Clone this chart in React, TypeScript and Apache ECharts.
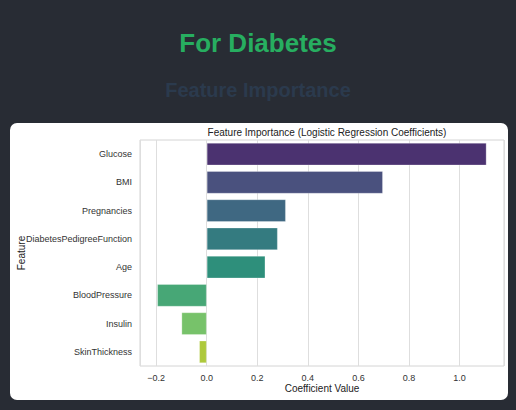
import React, { useEffect, useRef } from "react";
import * as echarts from "echarts";

const features = [
  "Glucose",
  "BMI",
  "Pregnancies",
  "DiabetesPedigreeFunction",
  "Age",
  "BloodPressure",
  "Insulin",
  "SkinThickness",
];
const coefficients = [1.107, 0.697, 0.313, 0.281, 0.232, -0.196, -0.1, -0.03];
const barColors = [
  "#4b3270",
  "#4a517e",
  "#3f6882",
  "#347b80",
  "#2e8f7b",
  "#47a776",
  "#77c26a",
  "#aec93c",
];

export default function App() {
  const ref = useRef<HTMLDivElement>(null);
  useEffect(() => {
    if (!ref.current) return;
    const chart = echarts.init(ref.current, null, { renderer: "svg" });
    const font = "'Liberation Sans', Arial, sans-serif";
    chart.setOption({
      animation: false,
      backgroundColor: "#282c34",
      textStyle: { fontFamily: font },
      graphic: [
        {
          type: "rect",
          z: -10,
          shape: { x: 10, y: 123, width: 498, height: 277, r: 7 },
          style: { fill: "#ffffff" },
        },
      ],
      title: [
        {
          text: "For Diabetes",
          left: "center",
          top: 25,
          textStyle: { color: "#27ae60", fontSize: 26, fontWeight: "bold", fontFamily: font },
        },
        {
          text: "Feature Importance",
          left: "center",
          top: 75,
          textStyle: { color: "#2b3a4d", fontSize: 20, fontWeight: "bold", fontFamily: font },
        },
        {
          text: "Feature Importance (Logistic Regression Coefficients)",
          left: 322,
          textAlign: "center",
          top: 122,
          textStyle: { color: "#222222", fontSize: 10, fontWeight: "normal", fontFamily: font },
        },
      ],
      grid: {
        left: 140,
        right: 12,
        top: 140,
        bottom: 44,
        show: true,
        borderColor: "#d4d4d4",
        borderWidth: 1,
        backgroundColor: "transparent",
      },
      xAxis: {
        type: "value",
        min: -0.264,
        max: 1.176,
        splitNumber: 7,
        name: "Coefficient Value",
        nameLocation: "middle",
        nameGap: 17,
        nameMoveOverlap: false,
        nameTextStyle: { color: "#222222", fontSize: 10, fontFamily: font },
        axisLine: { show: false },
        axisTick: { show: false },
        axisLabel: {
          color: "#333333",
          fontSize: 9,
          margin: 7,
          showMinLabel: false,
          showMaxLabel: false,
          formatter: (v: number) => {
            const s = Math.abs(v).toFixed(1);
            return v < -1e-9 ? "\u2212" + s : s;
          },
        },
        splitLine: { show: true, lineStyle: { color: "#dedede", width: 1 } },
      },
      yAxis: {
        type: "category",
        inverse: true,
        data: features,
        name: "Feature",
        nameLocation: "middle",
        nameGap: 114,
        nameRotate: 90,
        nameMoveOverlap: false,
        nameTextStyle: { color: "#222222", fontSize: 10, fontFamily: font },
        axisLine: { show: false },
        axisTick: { show: false },
        axisLabel: { color: "#333333", fontSize: 9, margin: 8 },
        splitLine: { show: false },
      },
      series: [
        {
          type: "bar",
          barWidth: "80%",
          data: coefficients.map((v, i) => ({
            value: v,
            itemStyle: {
              color: barColors[i],
              borderColor: "rgba(255,255,255,0.35)",
              borderWidth: 0.8,
            },
          })),
        },
      ],
    });
    return () => chart.dispose();
  }, []);
  return (
    <div
      ref={ref}
      style={{ position: "fixed", left: 0, top: 0, width: 516, height: 410 }}
    />
  );
}
